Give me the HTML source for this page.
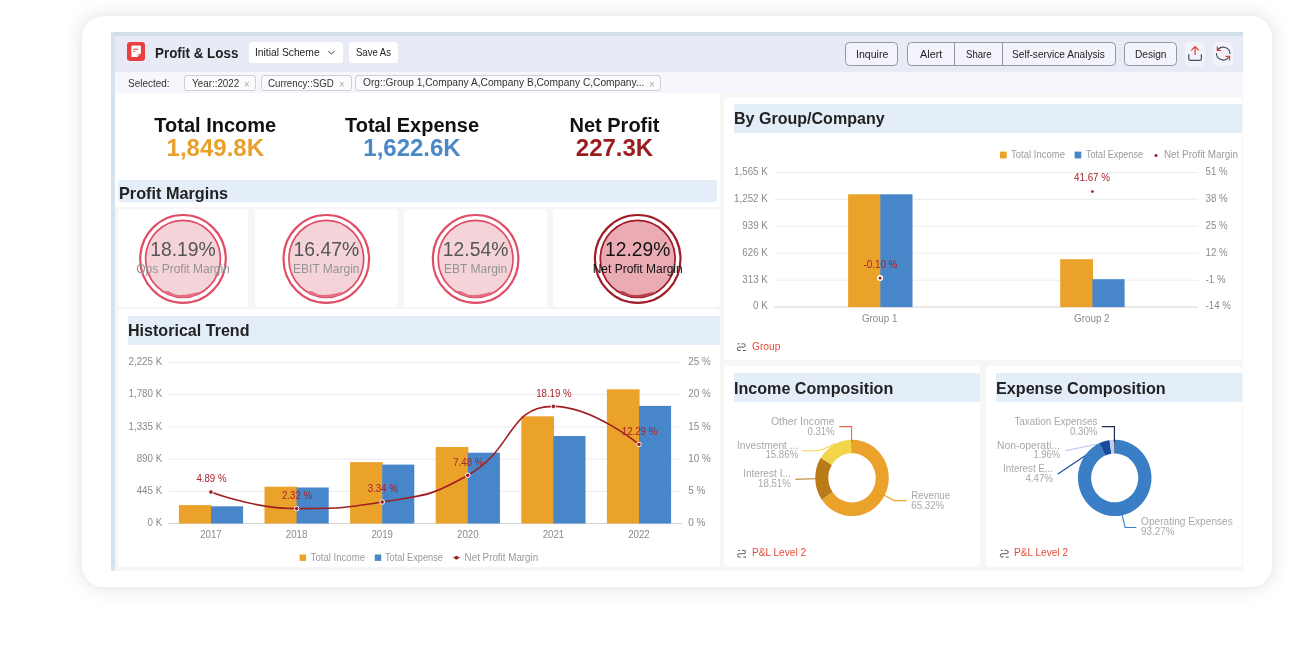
<!DOCTYPE html>
<html lang="en"><head><meta charset="utf-8"><title>Profit &amp; Loss</title>
<style>
html,body{margin:0;padding:0;background:#fff;}
body{width:1300px;height:660px;position:relative;overflow:hidden;font-family:"Liberation Sans",sans-serif;color:#222;}
.abs{position:absolute;}
.t{position:absolute;white-space:nowrap;transform-origin:0 50%;}
#card{left:82.2px;top:15.5px;width:1189.6px;height:571.5px;border-radius:21px;background:#fff;box-shadow:0 0 17px 3px rgba(110,85,85,0.12),0 0 5px 0 rgba(110,85,85,0.05);}
#dash{left:111.2px;top:32px;width:1131.8px;height:539px;background:#f7f6f7;overflow:hidden;}
#topb{left:0;top:0;width:100%;height:3.7px;background:#d0dfe9;}
#leftb{left:0;top:0;width:3.4px;height:100%;background:#d6e3ee;}
#hdr{left:3.4px;top:3.7px;right:0;height:36px;background:#e8eaf6;}
#flt{left:3.4px;top:39.7px;right:0;height:21px;background:#f6f7fc;}
.pn{position:absolute;background:#fff;border-radius:3.5px;}
.tb{position:absolute;background:#e4eef9;}
.wb{position:absolute;background:#fff;border-radius:3.5px;}
.ob{position:absolute;box-sizing:border-box;border:1px solid #96969e;border-radius:4.5px;background:#f3f4fb;}
.chip{position:absolute;box-sizing:border-box;border:1px solid #d0d0d6;border-radius:3px;background:#fbfbfe;height:15.6px;top:75.2px;}
svg text{font-family:"Liberation Sans",sans-serif;}
</style></head><body>
<div id="card" class="abs"></div>
<div id="dash" class="abs"><div id="topb" class="abs"></div><div id="hdr" class="abs"></div><div id="flt" class="abs"></div><div id="leftb" class="abs"></div></div>

<div class="abs" style="left:127px;top:42.1px;width:17.6px;height:18.8px;border-radius:3.2px;background:#e83e3e;"></div>
<svg class="abs" style="left:127px;top:42.1px" width="18" height="19" viewBox="0 0 18 19"><path d="M4.4 4.1a0.5 0.5 0 0 1 .5-.5h8.5a0.5 0.5 0 0 1 .5.5v7.1l-3.7 3.7H4.9a0.5 0.5 0 0 1-.5-.5z" fill="#fff"/><path d="M13.9 11.2l-3.7 3.7v-2.9a0.8 0.8 0 0 1 .8-.8z" fill="#f6b4b4"/><rect x="6" y="6.8" width="5.3" height="1" rx="0.4" fill="#e83e3e"/><rect x="6" y="8.9" width="2" height="1" rx="0.4" fill="#e83e3e"/></svg>
<div class="t" style="left:154.60px;top:43.82px;font-size:15px;line-height:17.23px;color:#222;font-weight:bold;transform:scale(0.8935,1.0);">Profit &amp; Loss</div>
<div class="wb" style="left:249px;top:42.4px;width:93.8px;height:20.3px"></div>
<div class="t" style="left:255.00px;top:45.86px;font-size:11.2px;line-height:12.87px;color:#222;font-weight:normal;transform:scale(0.9197,1.0);">Initial Scheme</div>
<svg class="abs" style="left:326px;top:48px" width="11" height="9" viewBox="0 0 11 9"><path d="M2.3 3l3.1 3.1L8.5 3" fill="none" stroke="#333" stroke-width="1"/></svg>
<div class="wb" style="left:349px;top:42.4px;width:48.5px;height:20.3px"></div>
<div class="t" style="left:356.00px;top:45.86px;font-size:11.2px;line-height:12.87px;color:#222;font-weight:normal;transform:scale(0.8517,1.0);">Save As</div>
<div class="ob" style="left:844.9px;top:42.4px;width:53.6px;height:23.2px"></div>
<div class="ob" style="left:906.8px;top:42.4px;width:209.2px;height:23.2px"></div>
<div class="ob" style="left:1124.1px;top:42.4px;width:53.0px;height:23.2px"></div>
<div class="abs" style="left:954.0px;top:43px;width:1px;height:22px;background:#96969e"></div>
<div class="abs" style="left:1001.6px;top:43px;width:1px;height:22px;background:#96969e"></div>
<div class="t" style="left:855.70px;top:47.52px;font-size:11.8px;line-height:13.56px;color:#222;font-weight:normal;transform:scale(0.8952,1.0);">Inquire</div>
<div class="t" style="left:919.50px;top:47.52px;font-size:11.8px;line-height:13.56px;color:#222;font-weight:normal;transform:scale(0.9191,1.0);">Alert</div>
<div class="t" style="left:965.80px;top:47.52px;font-size:11.8px;line-height:13.56px;color:#222;font-weight:normal;transform:scale(0.8130,1.0);">Share</div>
<div class="t" style="left:1012.40px;top:47.52px;font-size:11.8px;line-height:13.56px;color:#222;font-weight:normal;transform:scale(0.8585,1.0);">Self-service Analysis</div>
<div class="t" style="left:1134.90px;top:47.52px;font-size:11.8px;line-height:13.56px;color:#222;font-weight:normal;transform:scale(0.8576,1.0);">Design</div>
<div class="abs" style="left:1184.7px;top:42.3px;width:20.2px;height:23.4px;border-radius:4.5px;background:#f2f3fa;"></div>
<div class="abs" style="left:1213.1px;top:42.3px;width:20.2px;height:23.4px;border-radius:4.5px;background:#f2f3fa;"></div>
<div class="t" style="left:128.00px;top:76.64px;font-size:11px;line-height:12.64px;color:#333;font-weight:normal;transform:scale(0.9070,1.0);">Selected:</div>
<div class="chip" style="left:184.4px;width:72.0px"></div>
<div class="chip" style="left:260.5px;width:91.3px"></div>
<div class="chip" style="left:355.3px;width:306.2px"></div>
<div class="t" style="left:192.00px;top:76.64px;font-size:11px;line-height:12.64px;color:#333;font-weight:normal;transform:scale(0.8957,1.0);">Year::2022</div>
<div class="t" style="left:244.20px;top:79.15px;font-size:10px;line-height:11.49px;color:#a6a6a6;font-weight:normal;transform:scale(0.9589,1.0);">×</div>
<div class="t" style="left:268.20px;top:76.64px;font-size:11px;line-height:12.64px;color:#333;font-weight:normal;transform:scale(0.8823,1.0);">Currency::SGD</div>
<div class="t" style="left:338.80px;top:79.15px;font-size:10px;line-height:11.49px;color:#a6a6a6;font-weight:normal;transform:scale(0.9589,1.0);">×</div>
<div class="t" style="left:363.00px;top:76.45px;font-size:11px;line-height:12.64px;color:#333;font-weight:normal;transform:scale(0.9245,1.0);">Org::Group 1,Company A,Company B,Company C,Company...</div>
<div class="t" style="left:649.40px;top:79.15px;font-size:10px;line-height:11.49px;color:#a6a6a6;font-weight:normal;transform:scale(0.9589,1.0);">×</div>
<div class="abs" style="left:114.6px;top:93.1px;width:605.4px;height:113.9px;background:#fff;border-radius:0 3px 0 0"></div>
<div class="t" style="left:154.37px;top:114.40px;font-size:20px;line-height:22.98px;color:#111;font-weight:bold;transform:scale(1.0000,1.0);">Total Income</div>
<div class="t" style="left:166.60px;top:133.98px;font-size:24px;line-height:27.58px;color:#e9a02b;font-weight:bold;transform:scale(1.0000,1.0);">1,849.8K</div>
<div class="t" style="left:344.94px;top:114.40px;font-size:20px;line-height:22.98px;color:#111;font-weight:bold;transform:scale(1.0000,1.0);">Total Expense</div>
<div class="t" style="left:363.30px;top:133.98px;font-size:24px;line-height:27.58px;color:#4a88c7;font-weight:bold;transform:scale(1.0000,1.0);">1,622.6K</div>
<div class="t" style="left:569.50px;top:114.40px;font-size:20px;line-height:22.98px;color:#111;font-weight:bold;transform:scale(1.0000,1.0);">Net Profit</div>
<div class="t" style="left:575.80px;top:133.98px;font-size:24px;line-height:27.58px;color:#9b1c1f;font-weight:bold;transform:scale(1.0000,1.0);">227.3K</div>
<div class="tb" style="left:117.8px;top:180.2px;width:599.6px;height:22.2px;border-radius:3.5px"></div>
<div class="t" style="left:118.50px;top:183.54px;font-size:16.2px;line-height:18.61px;color:#222;font-weight:bold;transform:scale(1.0027,1.0);">Profit Margins</div>
<div class="pn" style="left:118.2px;top:209px;width:129.5px;height:97.8px"></div>
<div class="pn" style="left:255px;top:209px;width:143.0px;height:97.8px"></div>
<div class="pn" style="left:404px;top:209px;width:142.5px;height:97.8px"></div>
<div class="pn" style="left:553px;top:209px;width:167.4px;height:97.8px"></div>
<div class="pn" style="left:117.7px;top:309.4px;width:602.7px;height:257.5px"></div>
<div class="tb" style="left:127.8px;top:316px;width:592.5px;height:28.8px"></div>
<div class="t" style="left:128.00px;top:322.22px;font-size:16px;line-height:18.38px;color:#222;font-weight:bold;transform:scale(1.0048,1.04);">Historical Trend</div>
<div class="pn" style="left:724.2px;top:96.5px;width:517.4px;height:263px"></div>
<div class="tb" style="left:734px;top:104.2px;width:507.6px;height:28.5px"></div>
<div class="t" style="left:734.00px;top:110.42px;font-size:16px;line-height:18.38px;color:#222;font-weight:bold;transform:scale(1.0024,1.04);">By Group/Company</div>
<div class="t" style="left:751.90px;top:339.68px;font-size:11.4px;line-height:13.10px;color:#e84a3c;font-weight:normal;transform:scale(0.8963,1.0);">Group</div>
<div class="pn" style="left:724.2px;top:366.3px;width:255.5px;height:200.3px"></div>
<div class="tb" style="left:734px;top:373.3px;width:245.8px;height:28.4px"></div>
<div class="t" style="left:734.00px;top:379.52px;font-size:16px;line-height:18.38px;color:#222;font-weight:bold;transform:scale(1.0068,1.04);">Income Composition</div>
<div class="t" style="left:751.80px;top:545.88px;font-size:11.4px;line-height:13.10px;color:#e84a3c;font-weight:normal;transform:scale(0.8861,1.0);">P&amp;L Level 2</div>
<div class="pn" style="left:986.1px;top:366.3px;width:256.2px;height:200.3px"></div>
<div class="tb" style="left:996px;top:373.3px;width:246.3px;height:28.4px"></div>
<div class="t" style="left:996.00px;top:379.52px;font-size:16px;line-height:18.38px;color:#222;font-weight:bold;transform:scale(1.0100,1.04);">Expense Composition</div>
<div class="t" style="left:1014.20px;top:545.88px;font-size:11.4px;line-height:13.10px;color:#e84a3c;font-weight:normal;transform:scale(0.8861,1.0);">P&amp;L Level 2</div>
<svg class="abs" style="left:0;top:0" width="1300" height="660" viewBox="0 0 1300 660">
<path d="M1188.8 54.3v4.4a1.6 1.6 0 0 0 1.6 1.6h9.4a1.6 1.6 0 0 0 1.6-1.6v-4.4" fill="none" stroke="#4a4e5a" stroke-width="1.2"/>
<path d="M1195.1 54.8V46.6M1191.4 50.3l3.7-3.8l3.7 3.8" fill="none" stroke="#e8392c" stroke-width="1.2"/>
<path d="M1217.6 50.2a6.8 6.8 0 0 1 12.4 3.8" fill="none" stroke="#4a4e5a" stroke-width="1.1"/>
<path d="M1216.4 53a6.8 6.8 0 0 0 12.2 4.3" fill="none" stroke="#4a4e5a" stroke-width="1.1"/>
<path d="M1217.3 46.4v4.1h3.8" fill="none" stroke="#e8392c" stroke-width="1.2"/>
<path d="M1225.6 56.4h3.9v4.1" fill="none" stroke="#e8392c" stroke-width="1.2"/>
<path transform="translate(736.9,343.3)" d="M0.9 0.5h1.7M4.7 0.5h2a1.65 1.65 0 0 1 0 3.3h-4.6a1.7 1.7 0 0 0 0 3.4h1.6M6 7.2h2.8" fill="none" stroke="#555" stroke-width="1"/>
<path transform="translate(737.2,549.9)" d="M0.9 0.5h1.7M4.7 0.5h2a1.65 1.65 0 0 1 0 3.3h-4.6a1.7 1.7 0 0 0 0 3.4h1.6M6 7.2h2.8" fill="none" stroke="#555" stroke-width="1"/>
<path transform="translate(999.9,549.9)" d="M0.9 0.5h1.7M4.7 0.5h2a1.65 1.65 0 0 1 0 3.3h-4.6a1.7 1.7 0 0 0 0 3.4h1.6M6 7.2h2.8" fill="none" stroke="#555" stroke-width="1"/>
<ellipse cx="183" cy="258.9" rx="42.8" ry="43.9" fill="none" stroke="#e04e66" stroke-width="2.2"/>
<ellipse cx="183" cy="258.9" rx="37.4" ry="38.5" fill="#f5d4d9" stroke="#e04e66" stroke-width="1.7"/>
<path d="M164 292.1 q 3 -2.2 7 0.4 t 9 2.6 t 12 -1.6 t 10 -1.4 A37.4 38.5 0 0 1 164 292.1z" fill="#e66f84"/>
<text x="183.0" y="256.2" font-size="21" fill="#555" text-anchor="middle" textLength="65.6" lengthAdjust="spacingAndGlyphs">18.19%</text>
<text x="183.0" y="273.4" font-size="12" fill="#939393" text-anchor="middle" textLength="93.5" lengthAdjust="spacingAndGlyphs">Ops Profit Margin</text>
<ellipse cx="326.3" cy="258.9" rx="42.8" ry="43.9" fill="none" stroke="#e04e66" stroke-width="2.2"/>
<ellipse cx="326.3" cy="258.9" rx="37.4" ry="38.5" fill="#f5d4d9" stroke="#e04e66" stroke-width="1.7"/>
<path d="M307.3 292.1 q 3 -2.2 7 0.4 t 9 2.6 t 12 -1.6 t 10 -1.4 A37.4 38.5 0 0 1 307.3 292.1z" fill="#e66f84"/>
<text x="326.3" y="256.2" font-size="21" fill="#555" text-anchor="middle" textLength="65.6" lengthAdjust="spacingAndGlyphs">16.47%</text>
<text x="326.3" y="273.4" font-size="12" fill="#939393" text-anchor="middle">EBIT Margin</text>
<ellipse cx="475.6" cy="258.9" rx="42.8" ry="43.9" fill="none" stroke="#e04e66" stroke-width="2.2"/>
<ellipse cx="475.6" cy="258.9" rx="37.4" ry="38.5" fill="#f5d4d9" stroke="#e04e66" stroke-width="1.7"/>
<path d="M456.6 292.1 q 3 -2.2 7 0.4 t 9 2.6 t 12 -1.6 t 10 -1.4 A37.4 38.5 0 0 1 456.6 292.1z" fill="#e66f84"/>
<text x="475.6" y="256.2" font-size="21" fill="#555" text-anchor="middle" textLength="65.6" lengthAdjust="spacingAndGlyphs">12.54%</text>
<text x="475.6" y="273.4" font-size="12" fill="#939393" text-anchor="middle">EBT Margin</text>
<ellipse cx="637.7" cy="258.9" rx="42.8" ry="43.9" fill="none" stroke="#a01c26" stroke-width="2.2"/>
<ellipse cx="637.7" cy="258.9" rx="37.4" ry="38.5" fill="#ebabb2" stroke="#a01c26" stroke-width="1.7"/>
<path d="M618.7 292.1 q 3 -2.2 7 0.4 t 9 2.6 t 12 -1.6 t 10 -1.4 A37.4 38.5 0 0 1 618.7 292.1z" fill="#b84452"/>
<text x="637.7" y="256.2" font-size="21" fill="#111" text-anchor="middle" textLength="65.2" lengthAdjust="spacingAndGlyphs">12.29%</text>
<text x="637.7" y="273.4" font-size="12" fill="#111" text-anchor="middle" textLength="90.0" lengthAdjust="spacingAndGlyphs">Net Profit Margin</text>
<line x1="168.2" x2="681.8" y1="523.5" y2="523.5" stroke="#d4d4d4" stroke-width="1"/>
<text x="162.2" y="526.1" font-size="10.4" fill="#8a8a8a" text-anchor="end" textLength="14.7" lengthAdjust="spacingAndGlyphs">0 K</text>
<text x="688.2" y="526.1" font-size="10.4" fill="#8a8a8a" text-anchor="start" textLength="17.0" lengthAdjust="spacingAndGlyphs">0 %</text>
<line x1="168.2" x2="681.8" y1="491.3" y2="491.3" stroke="#ececec" stroke-width="1"/>
<text x="162.2" y="493.9" font-size="10.4" fill="#8a8a8a" text-anchor="end" textLength="25.5" lengthAdjust="spacingAndGlyphs">445 K</text>
<text x="688.2" y="493.9" font-size="10.4" fill="#8a8a8a" text-anchor="start" textLength="17.0" lengthAdjust="spacingAndGlyphs">5 %</text>
<line x1="168.2" x2="681.8" y1="459.1" y2="459.1" stroke="#ececec" stroke-width="1"/>
<text x="162.2" y="461.7" font-size="10.4" fill="#8a8a8a" text-anchor="end" textLength="25.5" lengthAdjust="spacingAndGlyphs">890 K</text>
<text x="688.2" y="461.7" font-size="10.4" fill="#8a8a8a" text-anchor="start" textLength="22.5" lengthAdjust="spacingAndGlyphs">10 %</text>
<line x1="168.2" x2="681.8" y1="426.9" y2="426.9" stroke="#ececec" stroke-width="1"/>
<text x="162.2" y="429.5" font-size="10.4" fill="#8a8a8a" text-anchor="end" textLength="33.7" lengthAdjust="spacingAndGlyphs">1,335 K</text>
<text x="688.2" y="429.5" font-size="10.4" fill="#8a8a8a" text-anchor="start" textLength="22.5" lengthAdjust="spacingAndGlyphs">15 %</text>
<line x1="168.2" x2="681.8" y1="394.7" y2="394.7" stroke="#ececec" stroke-width="1"/>
<text x="162.2" y="397.3" font-size="10.4" fill="#8a8a8a" text-anchor="end" textLength="33.7" lengthAdjust="spacingAndGlyphs">1,780 K</text>
<text x="688.2" y="397.3" font-size="10.4" fill="#8a8a8a" text-anchor="start" textLength="22.5" lengthAdjust="spacingAndGlyphs">20 %</text>
<line x1="168.2" x2="681.8" y1="362.5" y2="362.5" stroke="#ececec" stroke-width="1"/>
<text x="162.2" y="365.1" font-size="10.4" fill="#8a8a8a" text-anchor="end" textLength="33.7" lengthAdjust="spacingAndGlyphs">2,225 K</text>
<text x="688.2" y="365.1" font-size="10.4" fill="#8a8a8a" text-anchor="start" textLength="22.5" lengthAdjust="spacingAndGlyphs">25 %</text>
<rect x="178.9" y="505.1" width="32.7" height="18.4" fill="#eba22b"/>
<rect x="211.0" y="506.3" width="32.1" height="17.2" fill="#4786c8"/>
<text x="211.0" y="538.1" font-size="10.4" fill="#8a8a8a" text-anchor="middle" textLength="21.5" lengthAdjust="spacingAndGlyphs">2017</text>
<rect x="264.5" y="486.7" width="32.7" height="36.8" fill="#eba22b"/>
<rect x="296.6" y="487.5" width="32.1" height="36.0" fill="#4786c8"/>
<text x="296.6" y="538.1" font-size="10.4" fill="#8a8a8a" text-anchor="middle" textLength="21.5" lengthAdjust="spacingAndGlyphs">2018</text>
<rect x="350.1" y="462.1" width="32.7" height="61.4" fill="#eba22b"/>
<rect x="382.2" y="464.6" width="32.1" height="58.9" fill="#4786c8"/>
<text x="382.2" y="538.1" font-size="10.4" fill="#8a8a8a" text-anchor="middle" textLength="21.5" lengthAdjust="spacingAndGlyphs">2019</text>
<rect x="435.7" y="447" width="32.7" height="76.5" fill="#eba22b"/>
<rect x="467.8" y="452.7" width="32.1" height="70.8" fill="#4786c8"/>
<text x="467.8" y="538.1" font-size="10.4" fill="#8a8a8a" text-anchor="middle" textLength="21.5" lengthAdjust="spacingAndGlyphs">2020</text>
<rect x="521.3" y="416.3" width="32.7" height="107.2" fill="#eba22b"/>
<rect x="553.4" y="436" width="32.1" height="87.5" fill="#4786c8"/>
<text x="553.4" y="538.1" font-size="10.4" fill="#8a8a8a" text-anchor="middle" textLength="21.5" lengthAdjust="spacingAndGlyphs">2021</text>
<rect x="606.9" y="389.3" width="32.7" height="134.2" fill="#eba22b"/>
<rect x="639.0" y="405.9" width="32.1" height="117.6" fill="#4786c8"/>
<text x="639.0" y="538.1" font-size="10.4" fill="#8a8a8a" text-anchor="middle" textLength="21.5" lengthAdjust="spacingAndGlyphs">2022</text>
<path d="M211.0 492.0 C211.0 492.0 253.5 508.6 296.6 508.6 C339.1 508.6 340.3 508.6 382.2 502.0 C425.9 495.1 429.3 496.8 467.8 475.3 C514.9 449.0 507.2 406.4 553.4 406.4 C592.8 406.4 639.0 444.4 639.0 444.4" fill="none" stroke="#a01e22" stroke-width="1.6"/>
<circle cx="211.0" cy="492.0" r="2.3" fill="#a01e22" stroke="#fff" stroke-width="1"/>
<text x="211.5" y="482.4" font-size="10.4" fill="#a8222b" text-anchor="middle" textLength="30.1" lengthAdjust="spacingAndGlyphs">4.89 %</text>
<circle cx="296.6" cy="508.6" r="2.3" fill="#a01e22" stroke="#fff" stroke-width="1"/>
<text x="297.1" y="499.0" font-size="10.4" fill="#a8222b" text-anchor="middle" textLength="30.1" lengthAdjust="spacingAndGlyphs">2.32 %</text>
<circle cx="382.2" cy="502.0" r="2.3" fill="#a01e22" stroke="#fff" stroke-width="1"/>
<text x="382.7" y="492.4" font-size="10.4" fill="#a8222b" text-anchor="middle" textLength="30.1" lengthAdjust="spacingAndGlyphs">3.34 %</text>
<circle cx="467.8" cy="475.3" r="2.3" fill="#a01e22" stroke="#fff" stroke-width="1"/>
<text x="468.3" y="465.7" font-size="10.4" fill="#a8222b" text-anchor="middle" textLength="30.1" lengthAdjust="spacingAndGlyphs">7.48 %</text>
<circle cx="553.4" cy="406.4" r="2.3" fill="#a01e22" stroke="#fff" stroke-width="1"/>
<text x="553.9" y="396.8" font-size="10.4" fill="#a8222b" text-anchor="middle" textLength="35.5" lengthAdjust="spacingAndGlyphs">18.19 %</text>
<circle cx="639.0" cy="444.4" r="2.3" fill="#a01e22" stroke="#fff" stroke-width="1"/>
<text x="639.5" y="434.8" font-size="10.4" fill="#a8222b" text-anchor="middle" textLength="35.5" lengthAdjust="spacingAndGlyphs">12.29 %</text>
<rect x="299.6" y="554.5" width="6.4" height="6.4" fill="#eba22b"/>
<text x="310.6" y="561.1" font-size="10.2" fill="#9a9a9a" text-anchor="start" textLength="54.4" lengthAdjust="spacingAndGlyphs">Total Income</text>
<rect x="374.8" y="554.5" width="6.4" height="6.4" fill="#4786c8"/>
<text x="385.0" y="561.1" font-size="10.2" fill="#9a9a9a" text-anchor="start" textLength="58.0" lengthAdjust="spacingAndGlyphs">Total Expense</text>
<line x1="453.2" x2="459.8" y1="557.7" y2="557.7" stroke="#a01e22" stroke-width="1"/><circle cx="456.5" cy="557.7" r="1.9" fill="#a01e22"/>
<text x="464.6" y="561.1" font-size="10.2" fill="#9a9a9a" text-anchor="start" textLength="73.6" lengthAdjust="spacingAndGlyphs">Net Profit Margin</text>
<line x1="774.5" x2="1198.2" y1="307.1" y2="307.1" stroke="#d4d4d4" stroke-width="1"/>
<text x="767.8" y="309.4" font-size="10.4" fill="#8a8a8a" text-anchor="end" textLength="14.7" lengthAdjust="spacingAndGlyphs">0 K</text>
<text x="1205.6" y="309.4" font-size="10.4" fill="#8a8a8a" text-anchor="start" textLength="25.3" lengthAdjust="spacingAndGlyphs">-14 %</text>
<line x1="774.5" x2="1198.2" y1="280.2" y2="280.2" stroke="#ececec" stroke-width="1"/>
<text x="767.8" y="282.5" font-size="10.4" fill="#8a8a8a" text-anchor="end" textLength="25.5" lengthAdjust="spacingAndGlyphs">313 K</text>
<text x="1205.6" y="282.5" font-size="10.4" fill="#8a8a8a" text-anchor="start" textLength="19.9" lengthAdjust="spacingAndGlyphs">-1 %</text>
<line x1="774.5" x2="1198.2" y1="253.2" y2="253.2" stroke="#ececec" stroke-width="1"/>
<text x="767.8" y="255.5" font-size="10.4" fill="#8a8a8a" text-anchor="end" textLength="25.5" lengthAdjust="spacingAndGlyphs">626 K</text>
<text x="1205.6" y="255.5" font-size="10.4" fill="#8a8a8a" text-anchor="start" textLength="22.0" lengthAdjust="spacingAndGlyphs">12 %</text>
<line x1="774.5" x2="1198.2" y1="226.3" y2="226.3" stroke="#ececec" stroke-width="1"/>
<text x="767.8" y="228.6" font-size="10.4" fill="#8a8a8a" text-anchor="end" textLength="25.5" lengthAdjust="spacingAndGlyphs">939 K</text>
<text x="1205.6" y="228.6" font-size="10.4" fill="#8a8a8a" text-anchor="start" textLength="22.0" lengthAdjust="spacingAndGlyphs">25 %</text>
<line x1="774.5" x2="1198.2" y1="199.3" y2="199.3" stroke="#ececec" stroke-width="1"/>
<text x="767.8" y="201.6" font-size="10.4" fill="#8a8a8a" text-anchor="end" textLength="33.7" lengthAdjust="spacingAndGlyphs">1,252 K</text>
<text x="1205.6" y="201.6" font-size="10.4" fill="#8a8a8a" text-anchor="start" textLength="22.0" lengthAdjust="spacingAndGlyphs">38 %</text>
<line x1="774.5" x2="1198.2" y1="172.4" y2="172.4" stroke="#ececec" stroke-width="1"/>
<text x="767.8" y="174.7" font-size="10.4" fill="#8a8a8a" text-anchor="end" textLength="33.7" lengthAdjust="spacingAndGlyphs">1,565 K</text>
<text x="1205.6" y="174.7" font-size="10.4" fill="#8a8a8a" text-anchor="start" textLength="22.0" lengthAdjust="spacingAndGlyphs">51 %</text>
<rect x="848.1" y="194.3" width="32.800000000000004" height="112.8" fill="#eba22b"/>
<rect x="880.3" y="194.3" width="32.2" height="112.8" fill="#4786c8"/>
<text x="879.7" y="321.6" font-size="10.3" fill="#8a8a8a" text-anchor="middle" textLength="35.6" lengthAdjust="spacingAndGlyphs">Group 1</text>
<rect x="1060.2" y="259.2" width="32.800000000000004" height="47.9" fill="#eba22b"/>
<rect x="1092.4" y="279.2" width="32.2" height="27.9" fill="#4786c8"/>
<text x="1091.8" y="321.6" font-size="10.3" fill="#8a8a8a" text-anchor="middle" textLength="35.6" lengthAdjust="spacingAndGlyphs">Group 2</text>
<circle cx="880.0999999999999" cy="278" r="2.3" fill="#a01e22" stroke="#fff" stroke-width="1.5"/>
<text x="880.4" y="267.7" font-size="10.3" fill="#a8222b" text-anchor="middle" textLength="34.0" lengthAdjust="spacingAndGlyphs">-0.10 %</text>
<circle cx="1092.4" cy="191.6" r="1.4" fill="#a01e22"/>
<text x="1092.0" y="180.6" font-size="10.3" fill="#a8222b" text-anchor="middle" textLength="36.0" lengthAdjust="spacingAndGlyphs">41.67 %</text>
<rect x="1000" y="151.6" width="6.7" height="6.8" fill="#eba22b"/>
<text x="1011.0" y="158.2" font-size="10.2" fill="#9a9a9a" text-anchor="start" textLength="54.0" lengthAdjust="spacingAndGlyphs">Total Income</text>
<rect x="1074.6" y="151.6" width="6.7" height="6.8" fill="#4786c8"/>
<text x="1086.0" y="158.2" font-size="10.2" fill="#9a9a9a" text-anchor="start" textLength="57.0" lengthAdjust="spacingAndGlyphs">Total Expense</text>
<circle cx="1156" cy="155.4" r="1.5" fill="#a01e22"/>
<text x="1164.0" y="158.2" font-size="10.2" fill="#9a9a9a" text-anchor="start" textLength="74.0" lengthAdjust="spacingAndGlyphs">Net Profit Margin</text>
<path d="M835.6 443.6 C828 447 822 450.7 814.8 450.7 H802.5" fill="none" stroke="#f3d54c" stroke-width="1.1"/>
<path d="M816 478.7 L795.3 479.2" fill="none" stroke="#b97a18" stroke-width="1.1"/>
<path d="M883.6 495 L894.4 500.6 H906.7" fill="none" stroke="#eba22b" stroke-width="1.1"/>
<g transform="translate(852,477.9) scale(0.988,1.027) translate(-852,-477.9)">
<path d="M852.00 440.70 A37.2 37.2 0 1 1 821.47 499.16 L832.30 491.61 A24 24 0 1 0 852.00 453.90z" fill="#eba22b"/>
<path d="M821.47 499.16 A37.2 37.2 0 0 1 820.38 458.30 L831.60 465.26 A24 24 0 0 0 832.30 491.61z" fill="#b97a18"/>
<path d="M820.38 458.30 A37.2 37.2 0 0 1 851.28 440.71 L851.53 453.90 A24 24 0 0 0 831.60 465.26z" fill="#f3d54c"/>
<path d="M851.28 440.71 A37.2 37.2 0 0 1 852.00 440.70 L852.00 453.90 A24 24 0 0 0 851.53 453.90z" fill="#e8694a"/>
</g>
<path d="M851.6 442 V426.6 H839.2" fill="none" stroke="#e8694a" stroke-width="1.1"/>
<text x="834.6" y="425.1" font-size="10.3" fill="#a8a8a8" text-anchor="end" textLength="63.7" lengthAdjust="spacingAndGlyphs">Other Income</text>
<text x="834.6" y="434.7" font-size="10.3" fill="#a8a8a8" text-anchor="end" textLength="27.2" lengthAdjust="spacingAndGlyphs">0.31%</text>
<text x="798.3" y="448.5" font-size="10.3" fill="#a8a8a8" text-anchor="end" textLength="61.3" lengthAdjust="spacingAndGlyphs">Investment ...</text>
<text x="798.3" y="458.4" font-size="10.3" fill="#a8a8a8" text-anchor="end" textLength="32.9" lengthAdjust="spacingAndGlyphs">15.86%</text>
<text x="790.9" y="477.1" font-size="10.3" fill="#a8a8a8" text-anchor="end" textLength="47.8" lengthAdjust="spacingAndGlyphs">Interest I...</text>
<text x="790.9" y="486.7" font-size="10.3" fill="#a8a8a8" text-anchor="end" textLength="32.9" lengthAdjust="spacingAndGlyphs">18.51%</text>
<text x="911.3" y="498.7" font-size="10.3" fill="#a8a8a8" text-anchor="start" textLength="38.8" lengthAdjust="spacingAndGlyphs">Revenue</text>
<text x="911.3" y="508.9" font-size="10.3" fill="#a8a8a8" text-anchor="start" textLength="32.9" lengthAdjust="spacingAndGlyphs">65.32%</text>
<path d="M1057.9 473.9 L1104.8 442.4" fill="none" stroke="#174c9a" stroke-width="1.2"/>
<path d="M1065.3 450.6 L1112 441.2" fill="none" stroke="#c4cbef" stroke-width="1.1"/>
<path d="M1121.9 514 L1125.1 527.5 H1136.3" fill="none" stroke="#3a7ec6" stroke-width="1.1"/>
<g transform="translate(1114.7,477.9) scale(0.988,1.027) translate(-1114.7,-477.9)">
<path d="M1114.70 440.70 A37.2 37.2 0 1 1 1099.43 443.98 L1104.93 456.20 A23.8 23.8 0 1 0 1114.70 454.10z" fill="#3a7ec6"/>
<path d="M1099.43 443.98 A37.2 37.2 0 0 1 1109.44 441.07 L1111.33 454.34 A23.8 23.8 0 0 0 1104.93 456.20z" fill="#174c9a"/>
<path d="M1109.44 441.07 A37.2 37.2 0 0 1 1114.00 440.71 L1114.25 454.10 A23.8 23.8 0 0 0 1111.33 454.34z" fill="#c4cbef"/>
<path d="M1114.00 440.71 A37.2 37.2 0 0 1 1114.70 440.70 L1114.70 454.10 A23.8 23.8 0 0 0 1114.25 454.10z" fill="#1c2c4c"/>
</g>
<path d="M1114.4 442 V426.6 H1101.8" fill="none" stroke="#1c2c4c" stroke-width="1.2"/>
<text x="1097.5" y="425.1" font-size="10.3" fill="#a8a8a8" text-anchor="end" textLength="83.1" lengthAdjust="spacingAndGlyphs">Taxation Expenses</text>
<text x="1097.5" y="434.7" font-size="10.3" fill="#a8a8a8" text-anchor="end" textLength="27.5" lengthAdjust="spacingAndGlyphs">0.30%</text>
<text x="1060.0" y="448.5" font-size="10.3" fill="#a8a8a8" text-anchor="end" textLength="63.0" lengthAdjust="spacingAndGlyphs">Non-operati...</text>
<text x="1060.0" y="458.4" font-size="10.3" fill="#a8a8a8" text-anchor="end" textLength="26.5" lengthAdjust="spacingAndGlyphs">1.96%</text>
<text x="1053.0" y="471.8" font-size="10.3" fill="#a8a8a8" text-anchor="end" textLength="49.9" lengthAdjust="spacingAndGlyphs">Interest E...</text>
<text x="1053.0" y="481.8" font-size="10.3" fill="#a8a8a8" text-anchor="end" textLength="27.6" lengthAdjust="spacingAndGlyphs">4.47%</text>
<text x="1141.0" y="524.8" font-size="10.3" fill="#a8a8a8" text-anchor="start" textLength="91.8" lengthAdjust="spacingAndGlyphs">Operating Expenses</text>
<text x="1141.0" y="534.8" font-size="10.3" fill="#a8a8a8" text-anchor="start" textLength="33.5" lengthAdjust="spacingAndGlyphs">93.27%</text>
</svg>
</body></html>
